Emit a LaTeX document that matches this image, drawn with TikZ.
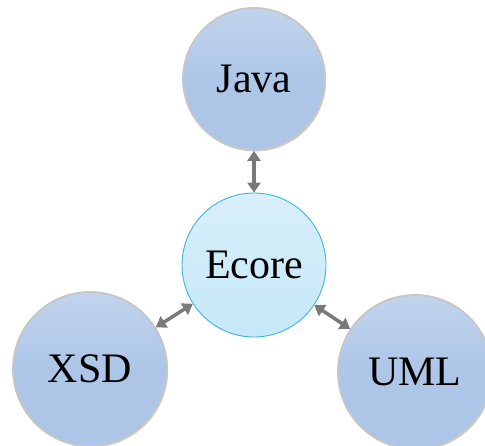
\documentclass[tikz,border=0pt]{standalone}
\usepackage{fontspec}
\setmainfont{Liberation Serif}
\usetikzlibrary{%
        arrows.meta,
        shadows}
\definecolor{ballblue}{HTML}{ADC6E7}
\definecolor{corefill}{HTML}{C6E8F8}
\definecolor{coreline}{HTML}{3FB4DA}
\definecolor{linkgray}{HTML}{7A7A7A}
\tikzset{%
    model/.style={circle, top color=ballblue!75!white, bottom color=ballblue,
        middle color=ballblue, draw=gray!45, line width=1.8pt, minimum size=#1,
        drop shadow={shadow xshift=1.2pt, shadow yshift=-1.5pt, opacity=0.35},
        font=\fontsize{42}{44}\selectfont},
    core/.style={circle, top color=corefill!70!white, bottom color=corefill,
        draw=coreline, line width=0.9pt, minimum size=#1,
        font=\fontsize{42}{44}\selectfont},
    link/.style={linkgray, line width=3.5pt,
        {Triangle[length=10pt, width=13pt]}-{Triangle[length=10pt, width=13pt]}}
}

\begin{document}
\begin{tikzpicture}[x=1pt, y=-1pt]

    \useasboundingbox (0, 0) rectangle (485, 445);

    \node[model=142pt] (java) at (254, 79) {Java};
    \node[core=144pt] (ecore) at (254, 265) {Ecore};
    \node[model=154pt] (xsd) at (90, 369) {XSD};
    \node[model=154pt] (uml) at (415, 372) {UML};

    \draw[link] (java) -- (ecore);
    \draw[link] (ecore) -- (xsd);
    \draw[link] (ecore) -- (uml);

\end{tikzpicture}
\end{document}
